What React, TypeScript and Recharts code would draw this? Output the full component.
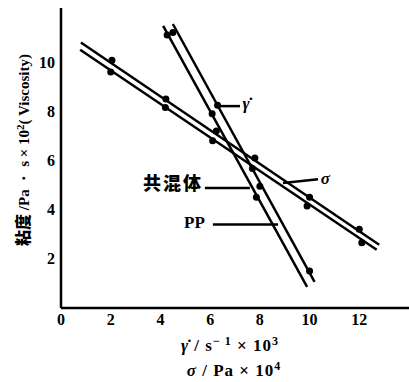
import React from "react";
import {
  ComposedChart,
  Line,
  Scatter,
  XAxis,
  YAxis,
  ReferenceLine,
  ReferenceDot,
} from "recharts";

// fitted straight lines (two end points each)
const sigmaUpperLine = [
  { x: 0.8, y: 10.8 },
  { x: 12.8, y: 2.57 },
];
const sigmaLowerLine = [
  { x: 0.77, y: 10.5 },
  { x: 12.7, y: 2.37 },
];
const gammaRightLine = [
  { x: 4.5, y: 11.55 },
  { x: 10.2, y: 1.06 },
];
const gammaLeftLine = [
  { x: 4.11, y: 11.47 },
  { x: 9.9, y: 0.86 },
];

// measured points
const sigmaUpperPts = [
  { x: 2.05, y: 10.08 },
  { x: 4.22, y: 8.5 },
  { x: 6.25, y: 7.2 },
  { x: 7.8, y: 6.1 },
  { x: 10, y: 4.5 },
  { x: 12, y: 3.2 },
];
const sigmaLowerPts = [
  { x: 2, y: 9.6 },
  { x: 4.2, y: 8.15 },
  { x: 6.1, y: 6.8 },
  { x: 7.7, y: 5.67 },
  { x: 9.9, y: 4.15 },
  { x: 12.1, y: 2.65 },
];
const gammaRightPts = [
  { x: 4.5, y: 11.2 },
  { x: 6.3, y: 8.25 },
  { x: 8.0, y: 4.95 },
  { x: 10, y: 1.5 },
];
const gammaLeftPts = [
  { x: 4.27, y: 11.1 },
  { x: 6.08, y: 7.9 },
  { x: 7.86, y: 4.5 },
];

const xTicks = [0, 2, 4, 6, 8, 10, 12];
const yTicks = [2, 4, 6, 8, 10];

// annotation labels and their leader lines
const notes = [
  { text: "γ̇", x: 7.3, y: 8.35, from: [6.28, 8.21], to: [7.2, 8.21] },
  { text: "σ", x: 10.45, y: 5.3, from: [8.93, 5.08], to: [10.34, 5.24] },
  { text: "共混体", x: 3.3, y: 5.05, from: [5.79, 4.88], to: [7.6, 4.88] },
  { text: "PP", x: 4.95, y: 3.5, from: [6.11, 3.4], to: [8.73, 3.4] },
];

const serif = "'Liberation Serif', 'DejaVu Serif', serif";
const cjk = "'Noto Sans CJK SC', sans-serif";
const tickStyle = { fontFamily: serif, fontWeight: 700, fontSize: 16, fill: "#000" };

const NoteText = (text: string) => (props: any) => {
  const { x, y } = props.viewBox;
  const isCjk = /[\u4e00-\u9fff]/.test(text);
  return (
    <text
      x={x}
      y={y}
      dy="0.35em"
      fontFamily={isCjk ? cjk : serif}
      fontWeight={isCjk ? 900 : 700}
      fontSize={isCjk ? 18 : 17}
      letterSpacing={isCjk ? 2 : 0}
      fontStyle={text === "σ" || text === "γ̇" ? "italic" : "normal"}
      fill="#000"
    >
      {text}
    </text>
  );
};

const XTitle = (props: any) => {
  const { x, width, y } = props.viewBox;
  const cx = x + width / 2 - 5;
  return (
    <g fontFamily={serif} fontWeight={700} fill="#000" letterSpacing={1}>
      <text x={cx} y={y + 43} textAnchor="middle" fontSize={17}>
        <tspan fontStyle="italic">γ̇</tspan> / s
        <tspan dy={-6} fontSize={12}>− 1</tspan>
        <tspan dy={6}> × 10</tspan>
        <tspan dy={-6} fontSize={12}>3</tspan>
      </text>
      <text x={cx + 4} y={y + 68} textAnchor="middle" fontSize={17}>
        <tspan fontStyle="italic">σ</tspan> / Pa × 10
        <tspan dy={-6} fontSize={12}>4</tspan>
      </text>
    </g>
  );
};

const YTitle = () => (
  <text
    x={24}
    y={150}
    transform="rotate(-90 24 150)"
    textAnchor="middle"
    dy="0.35em"
    fontWeight={700}
    fontSize={15}
    fill="#000"
  >
    <tspan fontFamily={cjk} fontWeight={900} fontSize={16}>粘度</tspan>
    <tspan fontFamily={serif}> /Pa ・ s × 10</tspan>
    <tspan fontFamily={serif} dy={-5} fontSize={11}>2</tspan>
    <tspan fontFamily={serif} dy={5}>( Viscosity)</tspan>
  </text>
);

export default function App() {
  const lineProps = {
    dataKey: "y",
    stroke: "#000",
    strokeWidth: 2.5,
    dot: false,
    isAnimationActive: false,
    legendType: "none" as const,
  };
  return (
    <div style={{ position: "absolute", left: 0, top: 0, width: 409, height: 382, background: "#fff" }}>
      <ComposedChart width={409} height={382} margin={{ top: 8, right: 0, bottom: 0, left: 0 }}>
        <XAxis
          type="number"
          dataKey="x"
          domain={[0, 14]}
          ticks={xTicks}
          tick={tickStyle}
          tickLine={false}
          tickSize={0}
          tickMargin={6}
          height={74}
          axisLine={{ stroke: "#000", strokeWidth: 2.5 }}
          allowDataOverflow
          label={{ content: XTitle }}
        />
        <YAxis
          type="number"
          dataKey="y"
          domain={[0, 12.2]}
          ticks={yTicks}
          tick={tickStyle}
          tickLine={false}
          tickSize={0}
          tickMargin={6}
          width={61}
          axisLine={{ stroke: "#000", strokeWidth: 2.5 }}
          allowDataOverflow
          label={{ content: YTitle }}
        />
        <Line data={sigmaUpperLine} {...lineProps} />
        <Line data={sigmaLowerLine} {...lineProps} />
        <Line data={gammaRightLine} {...lineProps} />
        <Line data={gammaLeftLine} {...lineProps} />
        {[sigmaUpperPts, sigmaLowerPts, gammaRightPts, gammaLeftPts].map((pts, i) => (
          <Scatter
            key={i}
            data={pts}
            dataKey="y"
            fill="#000"
            shape={(p: any) => <circle cx={p.cx} cy={p.cy} r={3.5} fill="#000" />}
            isAnimationActive={false}
          />
        ))}
        {notes.map((n, i) => (
          <ReferenceLine
            key={"l" + i}
            segment={[
              { x: n.from[0], y: n.from[1] },
              { x: n.to[0], y: n.to[1] },
            ]}
            stroke="#000"
            strokeWidth={2.5}
          />
        ))}
        {notes.map((n, i) => (
          <ReferenceDot
            key={"t" + i}
            x={n.x}
            y={n.y}
            r={0}
            stroke="none"
            fill="none"
            label={{ content: NoteText(n.text) }}
          />
        ))}
      </ComposedChart>
    </div>
  );
}
